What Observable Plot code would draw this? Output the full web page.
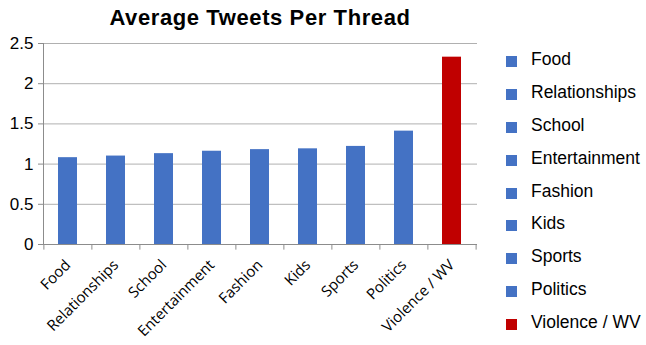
<!DOCTYPE html>
<html>
<head>
<meta charset="utf-8">
<script src="https://cdn.jsdelivr.net/npm/d3@7"></script>
<script src="https://cdn.jsdelivr.net/npm/@observablehq/plot@0.6"></script>
<style>
  body { margin: 0; background: #fff; }
  #chart { position: relative; width: 646px; height: 345px; overflow: hidden; }
  #chart svg { position: absolute; left: 0; top: 0; }
  #title {
    position: absolute; left: 43px; width: 434px; top: 5px;
    text-align: center; color: #000; letter-spacing: 0.6px;
    font: bold 22px "Liberation Sans", Arial, sans-serif;
  }
  #legend {
    position: absolute; left: 506px; top: 48px;
    font: 17.5px "Liberation Sans", Arial, sans-serif; color: #000;
  }
  .row { position: relative; height: 32.9px; }
  .sw { position: absolute; left: 0; top: 8px; width: 11px; height: 11px; }
  .lab { position: absolute; left: 25px; top: 1px; white-space: nowrap; }
</style>
</head>
<body>
<div id="chart">
  <div id="title">Average Tweets Per Thread</div>
  <div id="legend"></div>
</div>
<script>
// Average number of tweets per thread, by topic
const categories = ["Food", "Relationships", "School", "Entertainment", "Fashion", "Kids", "Sports", "Politics", "Violence / WV"];
const averages = [1.08, 1.10, 1.13, 1.16, 1.18, 1.19, 1.22, 1.41, 2.33];
const barColors = ["#4472C4", "#4472C4", "#4472C4", "#4472C4", "#4472C4", "#4472C4", "#4472C4", "#4472C4", "#C00000"];
const yTicks = [0, 0.5, 1, 1.5, 2, 2.5];

const table = categories.map((category, i) => ({category, value: averages[i]}));

const marginLeft = 43, marginRight = 169;
const halfStep = (646 - marginLeft - marginRight) / categories.length / 2;

const chart = Plot.plot({
  width: 646,
  height: 345,
  marginLeft,
  marginRight,
  marginTop: 43,
  marginBottom: 101,
  style: {fontFamily: "'Liberation Sans', Arial, sans-serif", color: "#000", background: "transparent"},
  x: {domain: categories, paddingInner: 0.6, paddingOuter: 0.3, label: null},
  y: {domain: [0, 2.5], label: null},
  color: {domain: categories, range: barColors},
  marks: [
    Plot.gridY(yTicks, {stroke: "#b0b0b0", strokeOpacity: 1}),
    Plot.barY(table, {x: "category", y: "value", fill: "category"}),
    Plot.ruleY([0], {stroke: "#8c8c8c"}),
    Plot.frame({anchor: "left", stroke: "#8c8c8c"}),
    // category boundary ticks below the baseline
    Plot.ruleX(categories, {x: d => d, y1: 0, y2: -0.07, dx: -halfStep, stroke: "#8c8c8c"}),
    Plot.ruleX(categories.slice(-1), {x: d => d, y1: 0, y2: -0.07, dx: halfStep, stroke: "#8c8c8c"}),
    Plot.axisY(yTicks, {
      tickSize: 5, tickPadding: 5, stroke: "#8c8c8c", fill: "#000",
      tickFormat: d => String(d), fontSize: 17, label: null
    }),
    Plot.axisX({
      tickSize: 0, tickRotate: -45, tickPadding: 18, dx: 0, fill: "#000",
      fontSize: 15, fontFamily: "'Open Sans', sans-serif", label: null
    })
  ]
});

document.getElementById("chart").prepend(chart);

const legend = document.getElementById("legend");
categories.forEach((c, i) => {
  const row = document.createElement("div");
  row.className = "row";
  const sw = document.createElement("div");
  sw.className = "sw";
  sw.style.background = barColors[i];
  const lab = document.createElement("div");
  lab.className = "lab";
  lab.textContent = c;
  row.append(sw, lab);
  legend.append(row);
});
</script>
</body>
</html>
